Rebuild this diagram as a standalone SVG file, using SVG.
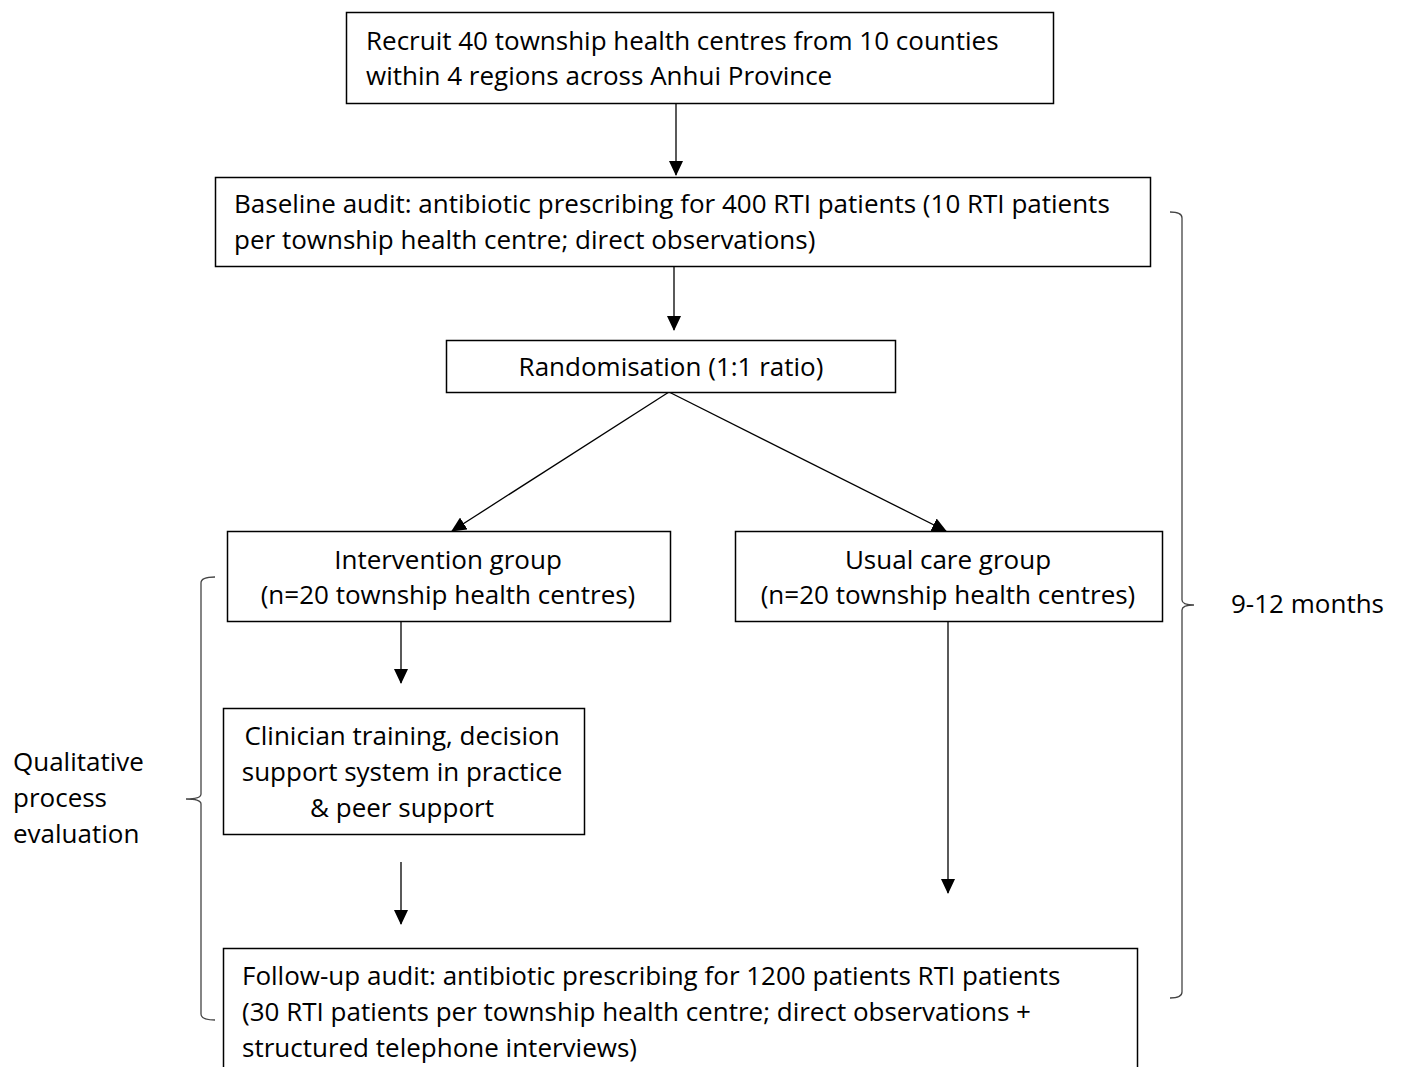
<svg xmlns="http://www.w3.org/2000/svg" width="1402" height="1067" viewBox="0 0 1402 1067">
<style>
.box{fill:#fff;stroke:#000;stroke-width:1.5}
.t{font-family:"Open Sans","Liberation Sans",sans-serif;font-size:26px;fill:#000}
.c{text-anchor:middle}
.ln{stroke:#000;stroke-width:1.3;fill:none}
.br{stroke:#444;stroke-width:1.3;fill:none}
</style>
<defs>
<marker id="ah" markerWidth="15" markerHeight="14" refX="14" refY="7" orient="auto" markerUnits="userSpaceOnUse">
<path d="M0,0 L15,7 L0,14 Z" fill="#000"/>
</marker>
</defs>
<g id="connectors">
<line class="ln" x1="676" y1="103" x2="676" y2="175" marker-end="url(#ah)"/>
<line class="ln" x1="674" y1="267" x2="674" y2="330" marker-end="url(#ah)"/>
<line class="ln" x1="669" y1="392" x2="452" y2="531" marker-end="url(#ah)"/>
<line class="ln" x1="669" y1="392" x2="946" y2="531" marker-end="url(#ah)"/>
<line class="ln" x1="401" y1="622" x2="401" y2="683" marker-end="url(#ah)"/>
<line class="ln" x1="401" y1="862" x2="401" y2="924" marker-end="url(#ah)"/>
<line class="ln" x1="948" y1="622" x2="948" y2="893" marker-end="url(#ah)"/>
</g>
<g id="n1">
<rect class="box" x="346.5" y="12.5" width="707" height="91"/>
<text class="t" x="366" y="50">Recruit 40 township health centres from 10 counties</text>
<text class="t" x="366" y="85">within 4 regions across Anhui Province</text>
</g>
<g id="n2">
<rect class="box" x="215.5" y="177.5" width="935" height="89"/>
<text class="t" x="234" y="213">Baseline audit: antibiotic prescribing for 400 RTI patients (10 RTI patients</text>
<text class="t" x="234" y="249">per township health centre; direct observations)</text>
</g>
<g id="n3">
<rect class="box" x="446.5" y="340.5" width="449" height="52"/>
<text class="t c" x="671" y="376">Randomisation (1:1 ratio)</text>
</g>
<g id="n4">
<rect class="box" x="227.5" y="531.5" width="443" height="90"/>
<text class="t c" x="448" y="569">Intervention group</text>
<text class="t c" x="448" y="604">(n=20 township health centres)</text>
</g>
<g id="n5">
<rect class="box" x="735.5" y="531.5" width="427" height="90"/>
<text class="t c" x="948" y="569">Usual care group</text>
<text class="t c" x="948" y="604">(n=20 township health centres)</text>
</g>
<g id="n6">
<rect class="box" x="223.5" y="708.5" width="361" height="126"/>
<text class="t c" x="402" y="745">Clinician training, decision</text>
<text class="t c" x="402" y="781">support system in practice</text>
<text class="t c" x="402" y="817">&amp; peer support</text>
</g>
<g id="n7">
<rect class="box" x="223.5" y="948.5" width="914" height="130"/>
<text class="t" x="242" y="985">Follow-up audit: antibiotic prescribing for 1200 patients RTI patients</text>
<text class="t" x="242" y="1021">(30 RTI patients per township health centre; direct observations +</text>
<text class="t" x="242" y="1057">structured telephone interviews)</text>
</g>
<g id="bracket-right">
<path class="br" d="M1170,212 Q1182,212 1182,218 L1182,600 Q1182,605 1194,605 Q1182,605 1182,610 L1182,992 Q1182,998 1170,998"/>
<text class="t" x="1231" y="613">9-12 months</text>
</g>
<g id="bracket-left">
<path class="br" d="M215,577 Q201,577 201,583 L201,794 Q201,799 186,799 Q201,799 201,804 L201,1014 Q201,1020 215,1020"/>
<text class="t" x="13" y="771">Qualitative</text>
<text class="t" x="13" y="807">process</text>
<text class="t" x="13" y="843">evaluation</text>
</g>
</svg>
